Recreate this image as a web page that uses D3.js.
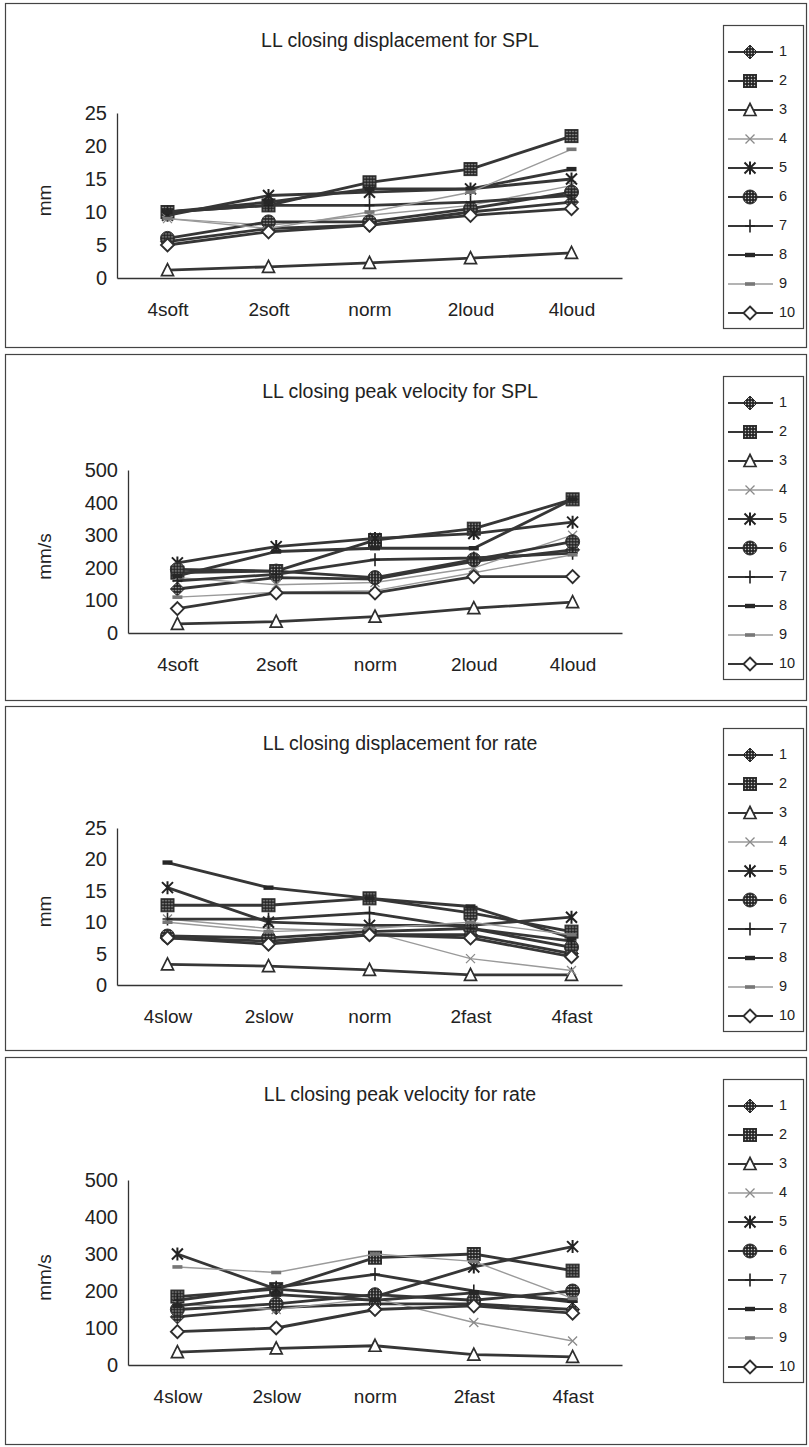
<!DOCTYPE html>
<html><head><meta charset="utf-8">
<script src="https://cdn.jsdelivr.net/npm/d3@7"></script>
<style>html,body{margin:0;padding:0;background:#fff;}svg{display:block;}</style>
</head><body>
<script>
// ---------------- data ----------------
const categoriesSPL = ["4soft", "2soft", "norm", "2loud", "4loud"];
const categoriesRate = ["4slow", "2slow", "norm", "2fast", "4fast"];
const seriesNames = ["1", "2", "3", "4", "5", "6", "7", "8", "9", "10"];
const ticksDisp = [0, 5, 10, 15, 20, 25];
const ticksVel = [0, 100, 200, 300, 400, 500];

// LL closing displacement for SPL (mm)
const dispSPL = [
  [5.5, 7.5, 8, 10, 11.5],
  [10, 11, 14.5, 16.5, 21.5],
  [1.2, 1.7, 2.3, 3, 3.8],
  [9, 8, 9.5, 11, 14],
  [9.5, 12.5, 13, 13.5, 15],
  [6, 8.5, 8.5, 10.5, 13],
  [10, 11, 11, 11.5, 12.5],
  [10, 11.5, 13.5, 13.5, 16.5],
  [9, 7.5, 10, 13, 19.5],
  [5, 7, 8, 9.5, 10.5]
];
// LL closing peak velocity for SPL (mm/s)
const velSPL = [
  [135, 170, 165, 220, 255],
  [185, 190, 285, 320, 410],
  [28, 35, 50, 76, 95],
  [170, 148, 155, 200, 300],
  [215, 265, 290, 305, 340],
  [195, 190, 170, 225, 280],
  [160, 180, 225, 230, 245],
  [175, 250, 260, 260, 410],
  [110, 125, 130, 185, 240],
  [75, 123, 123, 173, 173]
];
// LL closing displacement for rate (mm)
const dispRate = [
  [7.5, 7, 8, 8, 5],
  [12.7, 12.7, 13.8, 11.5, 8.5],
  [3.3, 3, 2.4, 1.6, 1.6],
  [10.5, 9, 8.5, 4.2, 2.3],
  [15.5, 10, 9.5, 9.5, 10.8],
  [7.8, 7.5, 8.5, 9, 6],
  [10.5, 10.5, 11.5, 9, 7],
  [19.5, 15.5, 13.8, 12.5, 7.5],
  [10, 8.5, 9, 10, 8],
  [7.5, 6.5, 8, 7.5, 4.5]
];
// LL closing peak velocity for rate (mm/s)
const velRate = [
  [130, 155, 165, 165, 150],
  [185, 205, 290, 300, 255],
  [35, 45, 52, 28, 22],
  [165, 150, 180, 115, 65],
  [300, 205, 185, 265, 320],
  [150, 165, 190, 175, 200],
  [175, 210, 245, 200, 170],
  [160, 190, 175, 195, 175],
  [265, 250, 300, 280, 180],
  [90, 100, 150, 160, 140]
];

// ---------------- layout ----------------
const W = 809, H = 1447;
const FONT = "'Liberation Sans', Arial, sans-serif";
const panels = [
  {top: 3, bottom: 347, title: "LL closing displacement for SPL", unit: "mm", cats: categoriesSPL, ticks: ticksDisp, data: dispSPL, left: 117, plotTop: 113, plotBottom: 278},
  {top: 354, bottom: 700, title: "LL closing peak velocity for SPL", unit: "mm/s", cats: categoriesSPL, ticks: ticksVel, data: velSPL, left: 128, plotTop: 470, plotBottom: 633},
  {top: 706, bottom: 1050, title: "LL closing displacement for rate", unit: "mm", cats: categoriesRate, ticks: ticksDisp, data: dispRate, left: 117, plotTop: 828, plotBottom: 985},
  {top: 1057, bottom: 1444, title: "LL closing peak velocity for rate", unit: "mm/s", cats: categoriesRate, ticks: ticksVel, data: velRate, left: 128, plotTop: 1180, plotBottom: 1365}
];
const plotRight = 622;
const DARK = "#2e2e2e";

const svg = d3.select("body").append("svg").attr("width", W).attr("height", H);
const defs = svg.append("defs");
const pat = defs.append("pattern").attr("id", "ht").attr("patternUnits", "userSpaceOnUse")
  .attr("width", 3).attr("height", 3);
pat.append("rect").attr("width", 3).attr("height", 3).attr("fill", "#262626");
pat.append("circle").attr("cx", 1.5).attr("cy", 1.5).attr("r", 0.75).attr("fill", "#c8c8c8");

// series styles
const styles = seriesNames.map((n, i) => {
  const light = (i === 3 || i === 8);
  return {
    stroke: light ? "#9a9a9a" : "#363636",
    width: light ? 1.4 : 2.8
  };
});

function drawMarker(g, i, x, y) {
  const s = g.append("g").attr("transform", `translate(${x},${y})`);
  switch (i) {
    case 0: // filled diamond
      s.append("path").attr("d", "M0,-7L7,0L0,7L-7,0Z").attr("fill", "url(#ht)").attr("stroke", DARK).attr("stroke-width", 1);
      break;
    case 1: // filled square
      s.append("rect").attr("x", -6.5).attr("y", -6.5).attr("width", 13).attr("height", 13).attr("fill", "url(#ht)").attr("stroke", DARK).attr("stroke-width", 1);
      break;
    case 2: // open triangle
      s.append("path").attr("d", "M0,-6.5L6,5.5L-6,5.5Z").attr("fill", "#fff").attr("stroke", DARK).attr("stroke-width", 1.7);
      break;
    case 3: // light x
      s.append("path").attr("d", "M-4.5,-4.5L4.5,4.5M-4.5,4.5L4.5,-4.5").attr("stroke", "#8a8a8a").attr("stroke-width", 1.3);
      break;
    case 4: // asterisk
      s.append("path").attr("d", "M-5.5,-5.5L5.5,5.5M-5.5,5.5L5.5,-5.5M0,-6.5L0,6.5").attr("stroke", "#222").attr("stroke-width", 2);
      break;
    case 5: // filled circle
      s.append("circle").attr("r", 7).attr("fill", "url(#ht)").attr("stroke", DARK).attr("stroke-width", 1);
      break;
    case 6: // plus
      s.append("path").attr("d", "M0,-6.5L0,6.5M-5,0L5,0").attr("stroke", "#222").attr("stroke-width", 1.6);
      break;
    case 7: // dash
      s.append("rect").attr("x", -5).attr("y", -2.2).attr("width", 10).attr("height", 4.4).attr("fill", "#262626");
      break;
    case 8: // light dash
      s.append("rect").attr("x", -5).attr("y", -1.8).attr("width", 10).attr("height", 3.6).attr("fill", "#777");
      break;
    case 9: // open diamond
      s.append("path").attr("d", "M0,-6.5L6.5,0L0,6.5L-6.5,0Z").attr("fill", "#fff").attr("stroke", DARK).attr("stroke-width", 1.9);
      break;
  }
}

panels.forEach(p => {
  const g = svg.append("g");
  // frame
  g.append("rect").attr("x", 5.5).attr("y", p.top + 0.5).attr("width", 801).attr("height", p.bottom - p.top)
    .attr("fill", "none").attr("stroke", "#444").attr("stroke-width", 1.2);
  // title
  g.append("text").attr("x", 400).attr("y", p.top + 39).attr("text-anchor", "middle")
    .attr("dominant-baseline", "middle").attr("font-family", FONT).attr("font-size", 19.5).attr("fill", "#222")
    .text(p.title);

  const x = d3.scalePoint().domain(p.cats).range([p.left, plotRight]).padding(0.5);
  const y = d3.scaleLinear().domain([0, d3.max(p.ticks)]).range([p.plotBottom, p.plotTop]);

  // y axis
  const ya = g.append("g").attr("transform", `translate(${p.left},0)`)
    .call(d3.axisLeft(y).tickValues(p.ticks).tickSize(0).tickPadding(10));
  ya.select(".domain").attr("stroke", "#333").attr("stroke-width", 1.3);
  ya.selectAll("text").attr("font-family", FONT).attr("font-size", 20).attr("fill", "#222");
  // x axis
  const xa = g.append("g").attr("transform", `translate(0,${p.plotBottom})`)
    .call(d3.axisBottom(x).tickSize(0).tickPadding(25));
  xa.select(".domain").attr("stroke", "#333").attr("stroke-width", 1.3);
  xa.selectAll("text").attr("font-family", FONT).attr("font-size", 19).attr("fill", "#222");

  // unit label
  g.append("text").attr("transform", `translate(46,${(p.plotTop + p.plotBottom) / 2 + 5}) rotate(-90)`)
    .attr("text-anchor", "middle").attr("dominant-baseline", "middle")
    .attr("font-family", FONT).attr("font-size", 19).attr("fill", "#222").text(p.unit);

  // series
  const line = d3.line().x((d, j) => x(p.cats[j])).y(d => y(d));
  p.data.forEach((vals, i) => {
    g.append("path").attr("d", line(vals)).attr("fill", "none")
      .attr("stroke", styles[i].stroke).attr("stroke-width", styles[i].width).attr("stroke-linejoin", "round");
    vals.forEach((v, j) => drawMarker(g, i, x(p.cats[j]), y(v)));
  });

  // legend
  const lgTop = p.top + 22;
  const lg = g.append("g");
  lg.append("rect").attr("x", 723.5).attr("y", lgTop + 0.5).attr("width", 80).attr("height", 303)
    .attr("fill", "#fff").attr("stroke", "#444").attr("stroke-width", 1.2);
  seriesNames.forEach((n, i) => {
    const ly = lgTop + 27 + i * 29;
    lg.append("line").attr("x1", 728).attr("x2", 773).attr("y1", ly).attr("y2", ly)
      .attr("stroke", styles[i].stroke).attr("stroke-width", Math.min(styles[i].width, 2));
    drawMarker(lg, i, 750, ly);
    lg.append("text").attr("x", 779).attr("y", ly).attr("dominant-baseline", "middle")
      .attr("font-family", FONT).attr("font-size", 14.5).attr("fill", "#222").text(n);
  });
});
</script>
</body></html>
